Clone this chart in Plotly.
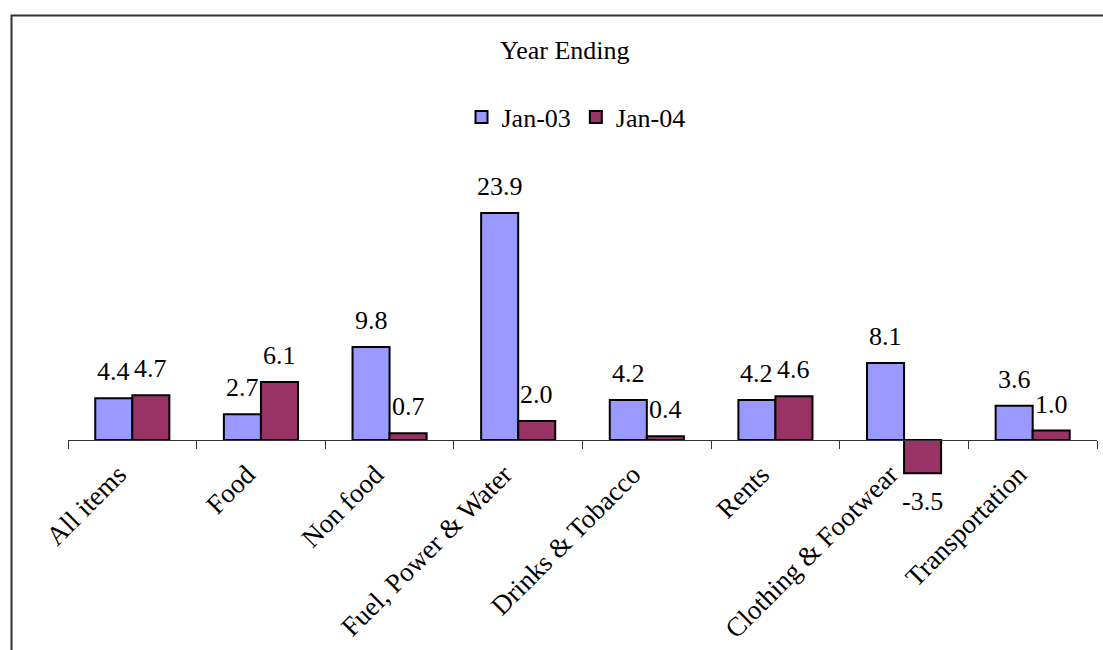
import plotly.graph_objects as go

categories = ["All items", "Food", "Non food", "Fuel, Power & Water",
              "Drinks & Tobacco", "Rents", "Clothing & Footwear", "Transportation"]
jan03 = [4.4, 2.7, 9.8, 23.9, 4.2, 4.2, 8.1, 3.6]
jan04 = [4.7, 6.1, 0.7, 2.0, 0.4, 4.6, -3.5, 1.0]
series_names = ["Jan-03", "Jan-04"]
series_colors = ["#9999FF", "#993366"]

FONT = "Liberation Serif"
W, H = 1103, 650
ML, MR, MT, MB = 68, 6, 160, 150
PLOT_W = W - ML - MR
PLOT_H = H - MT - MB
Y_MIN, Y_MAX = -6.316, 29.474
ZERO_FRAC = (0 - Y_MIN) / (Y_MAX - Y_MIN)

fig = go.Figure()
for name, vals, color in zip(series_names, [jan03, jan04], series_colors):
    fig.add_trace(go.Bar(
        x=categories, y=vals, name=name,
        marker=dict(color=color, line=dict(color="black", width=2)),
    ))

# value labels above (or below) each bar
bar_px = PLOT_W / len(categories) * (1 - 0.424) / 2
for i, vals in enumerate([jan03, jan04]):
    shift = (-0.5 if i == 0 else 0.5) * bar_px
    for cat, v in zip(categories, vals):
        fig.add_annotation(
            x=cat, y=v, text=f"{v:.1f}", showarrow=False,
            xshift=shift, yshift=10 if v >= 0 else -12,
            yanchor="bottom" if v >= 0 else "top",
            font=dict(family=FONT, size=26, color="black"),
        )


def px_to_paper_x(px):
    return (px - ML) / PLOT_W


def px_to_paper_y(py):
    return (H - MB - py) / PLOT_H


# chart title
fig.add_annotation(
    x=px_to_paper_x(565), y=px_to_paper_y(50), xref="paper", yref="paper",
    text="Year Ending", showarrow=False, xanchor="center", yanchor="middle",
    font=dict(family=FONT, size=26, color="black"),
)

# outer frame of the chart area
fig.add_shape(
    type="rect", xref="paper", yref="paper",
    x0=px_to_paper_x(11.5), y0=px_to_paper_y(15.5),
    x1=px_to_paper_x(1115), y1=px_to_paper_y(665),
    line=dict(color="#333333", width=2), layer="above",
)

fig.update_layout(
    width=W, height=H,
    margin=dict(l=ML, r=MR, t=MT, b=MB, autoexpand=False),
    paper_bgcolor="white", plot_bgcolor="white",
    barmode="group", bargap=0.424, bargroupgap=0,
    font=dict(family=FONT, size=26, color="black"),
    legend=dict(
        orientation="h", x=px_to_paper_x(576), y=px_to_paper_y(117),
        xanchor="center", yanchor="middle",
        font=dict(family=FONT, size=26, color="black"),
        bgcolor="rgba(0,0,0,0)", itemwidth=30,
    ),
    showlegend=True,
)
fig.update_xaxes(
    type="category", anchor="free", position=ZERO_FRAC,
    showline=True, linecolor="#333333", linewidth=1,
    ticks="outside", ticklen=8, tickcolor="#333333", tickwidth=1,
    tickson="boundaries", tickangle=-45, automargin=False,
    ticklabelshift=-14, ticklabelstandoff=7,
    tickfont=dict(family=FONT, size=27, color="black"),
    showgrid=False,
)
fig.update_yaxes(
    range=[Y_MIN, Y_MAX], visible=False, showgrid=False, zeroline=False,
)

fig.write_html("out.html")
